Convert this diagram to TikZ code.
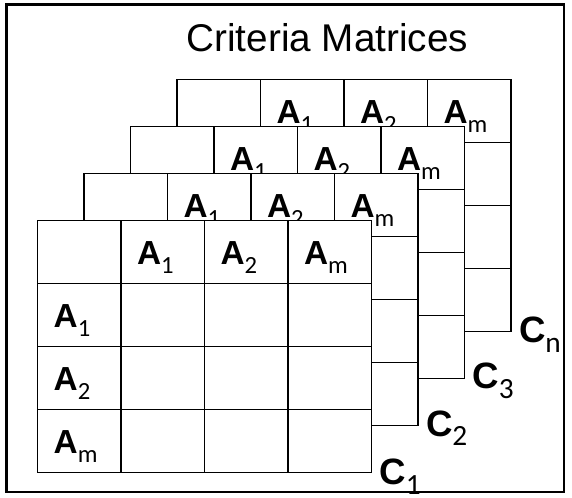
\documentclass[tikz,border=0pt]{standalone}
\usepackage{fontspec}
\usepackage{tikz}
\usetikzlibrary{matrix}

\newfontfamily\arialfont{Liberation Sans}
\newfontfamily\calibrifont{Carlito}
\newcommand{\altA}[1]{{\arialfont\bfseries\fontsize{25}{30}\selectfont A}\raisebox{-6.75pt}{\calibrifont\fontsize{18.5}{22}\selectfont #1}}
\newcommand{\critC}[1]{{\arialfont\bfseries\fontsize{27.5}{33}\selectfont C}\raisebox{-7.1pt}{\calibrifont\fontsize{22}{26}\selectfont #1}}

\begin{document}
\begin{tikzpicture}[
    x=0.75pt,
    y=-0.75pt,
    gridcell/.style={rectangle, draw, fill=white, line width=1.1pt, text width=38.6pt, inner xsep=12pt, inner ysep=1pt, minimum height=47.25pt, text height=19pt, text depth=0.25pt, align=left},
    critmatrix/.style={matrix of nodes, nodes in empty cells, nodes={gridcell}, column sep=-1.1pt, row sep=-1.1pt, inner sep=0pt, anchor=north west},
    layertag/.style={anchor=base west, inner sep=0pt},
    frame/.style={draw, line width=1.9pt}
]
\useasboundingbox (0,0) rectangle (572,497);

% Frame and title
\draw[frame] (6.7,4.6) rectangle (564,492);
\node[anchor=base] (title) at (327.3,51.7) {\arialfont\fontsize{29}{34}\selectfont Criteria Matrices};

% Criteria matrices, back to front
\matrix (cn) [critmatrix] at (176.2,78.3) {
         & \altA{1} & \altA{2} & \altA{m} \\
\altA{1} &          &          &          \\
\altA{2} &          &          &          \\
\altA{m} &          &          &          \\
};
\matrix (c3) [critmatrix] at (129.7,125.3) {
         & \altA{1} & \altA{2} & \altA{m} \\
\altA{1} &          &          &          \\
\altA{2} &          &          &          \\
\altA{m} &          &          &          \\
};
\matrix (c2) [critmatrix] at (83.2,172.3) {
         & \altA{1} & \altA{2} & \altA{m} \\
\altA{1} &          &          &          \\
\altA{2} &          &          &          \\
\altA{m} &          &          &          \\
};
\matrix (c1) [critmatrix] at (36.7,219.3) {
         & \altA{1} & \altA{2} & \altA{m} \\
\altA{1} &          &          &          \\
\altA{2} &          &          &          \\
\altA{m} &          &          &          \\
};

% Criteria labels
\node[layertag] (tagn) at ([xshift=5pt, yshift=-7.7pt]cn.south east) {\critC{n}};
\node[layertag] (tag3) at ([xshift=5pt, yshift=-7.2pt]c3.south east) {\critC{3}};
\node[layertag] (tag2) at ([xshift=5pt, yshift=-7.5pt]c2.south east) {\critC{2}};
\node[layertag] (tag1) at ([xshift=5pt, yshift=-8.7pt]c1.south east) {\critC{1}};

\end{tikzpicture}
\end{document}
